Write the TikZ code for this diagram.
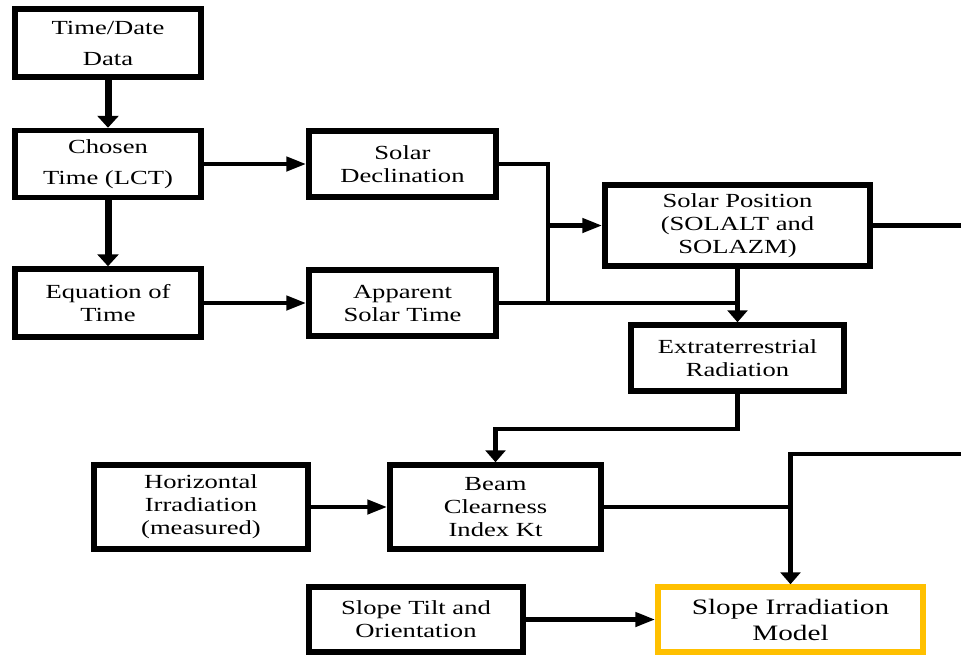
\documentclass[tikz,border=0pt]{standalone}
\usepackage{fontspec}
\setmainfont{Liberation Serif}[FakeStretch=1.33]
\usetikzlibrary{arrows.meta}
\definecolor{boxyellow}{HTML}{FFC000}
\tikzset{
  box/.style={draw=black, line width=5.5pt, fill=white, align=center, inner sep=0pt,
    font=\fontsize{20}{23}\selectfont},
  wide/.style={font=\fontsize{20}{31}\selectfont},
  conn/.style={line width=4.5pt, line cap=rect},
  harr/.style={conn, -{Triangle[length=20pt,width=14pt]}},
  varr/.style={conn, -{Triangle[length=12pt,width=20pt]}},
  tharr/.style={line width=7pt, -{Triangle[length=12pt,width=21pt]}},
}
\begin{document}
\begin{tikzpicture}[x=1pt,y=-1pt]
\useasboundingbox (0,0) rectangle (961,657);
% nodes
\node[box,wide,minimum width=186pt,minimum height=68pt] (td) at (108,43) {Time/Date\\Data};
\node[box,wide,minimum width=186pt,minimum height=67pt] (ct) at (108,164) {Chosen\\Time (LCT)};
\node[box,minimum width=186pt,minimum height=68pt] (eot) at (108,303) {Equation of\\Time};
\node[box,minimum width=187pt,minimum height=66pt] (sd) at (402.5,164) {Solar\\Declination};
\node[box,minimum width=187pt,minimum height=66pt] (ast) at (402.5,303) {Apparent\\Solar Time};
\node[box,minimum width=265pt,minimum height=81pt] (sp) at (737.5,225.5) {Solar Position\\(SOLALT and\\SOLAZM)};
\node[box,minimum width=213pt,minimum height=66pt] (er) at (737.5,358) {Extraterrestrial\\Radiation};
\node[box,minimum width=214pt,minimum height=84pt] (hi) at (201,507) {Horizontal\\Irradiation\\(measured)};
\node[box,minimum width=211pt,minimum height=84pt] (bc) at (495.5,507) {Beam\\Clearness\\Index Kt};
\node[box,minimum width=214pt,minimum height=65pt] (st) at (416,619.5) {Slope Tilt and\\Orientation};
\node[box,draw=boxyellow,minimum width=265pt,minimum height=65pt,
  font=\fontsize{22}{26}\selectfont] (sim) at (790.5,619.5) {Slope Irradiation\\Model};
% junction coordinates
\coordinate (jx) at (548,303);
\coordinate (outsp) at (961,225.5);
\coordinate (inr) at (961,454);
% connectors
\draw[tharr] (td.south) -- (ct.north);
\draw[tharr] (ct.south) -- (eot.north);
\draw[harr] (ct.east) -- (sd.west);
\draw[harr] (eot.east) -- (ast.west);
\draw[conn] (sd.east) -| (jx);
\draw[harr] (jx |- sp.west) -- (sp.west);
\draw[conn] (ast.east) -- (ast.east -| er.north);
\draw[varr] (sp.south) -- (er.north);
\draw[conn] (sp.east) -- (outsp);
\draw[varr] (er.south) -- ++(0,35) -| (bc.north);
\draw[harr] (hi.east) -- (bc.west);
\draw[varr] (inr) -| (sim.north);
\draw[conn] (bc.east) -- (bc.east -| sim.north);
\draw[harr] (st.east) -- (sim.west);
\end{tikzpicture}
\end{document}
